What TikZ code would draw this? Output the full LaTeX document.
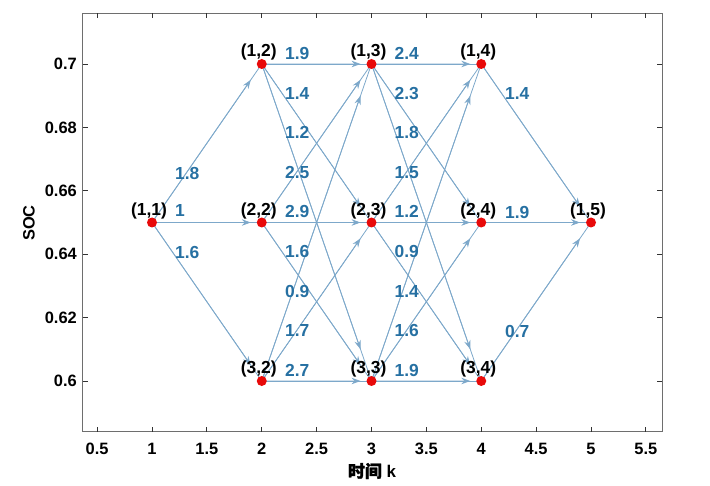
\documentclass[tikz,border=0pt]{standalone}
\usepackage{fontspec}
\setmainfont{Liberation Sans}
\newfontfamily\cjk[FakeBold=1.5]{Noto Sans CJK SC}
\usetikzlibrary{arrows.meta,calc}
\definecolor{edgeblue}{RGB}{125,168,202}
\definecolor{lblue}{RGB}{38,112,162}
\definecolor{dotred}{RGB}{232,10,10}
\definecolor{axisgray}{RGB}{110,110,110}
\tikzset{
  axisbox/.style={draw=axisgray, line width=1pt},
  tickmark/.style={draw=black!80, line width=0.9pt},
  edge/.style={draw=edgeblue, line width=0.8pt},
  arr/.style={draw=edgeblue, line width=0.8pt, -{Stealth[length=9pt,width=6.5pt,inset=3pt]}},
  dot/.style={circle, fill=dotred, inner sep=0pt, minimum size=10bp},
  nlab/.style={font=\fontsize{17.5}{18}\selectfont\bfseries, text=black, inner sep=0pt},
  elab/.style={font=\fontsize{17.5}{18}\selectfont\bfseries, text=lblue, inner sep=0pt, anchor=west},
  ticklab/.style={font=\fontsize{16.5}{17}\selectfont\bfseries, text=black, inner sep=0pt},
}
\newcommand\conn[2]{%
  \draw[edge] (#1) -- (#2);
  \draw[arr] (#1) -- ($(#1)!0.9!(#2)$);}
\begin{document}
\begin{tikzpicture}[x=1bp,y=-1bp]
\useasboundingbox (0,0) rectangle (710,486);
% axes box
\draw[axisbox] (82.7,13.3) rectangle (662,431.7);
% x ticks
\foreach \k in {0.5,1,...,5.5}{
  \pgfmathsetmacro\px{152+(\k-1)*109.75}
  \draw[tickmark] (\px,431.7) -- ++(0,-5);
  \draw[tickmark] (\px,13.3) -- ++(0,5);
}
\foreach \k/\t in {0.5/0.5,1/1,1.5/1.5,2/2,2.5/2.5,3/3,3.5/3.5,4/4,4.5/4.5,5/5,5.5/5.5}{
  \pgfmathsetmacro\px{152+(\k-1)*109.75}
  \node[ticklab] (xt\t) at (\px,449) {\t};
}
% y ticks
\foreach \v/\t in {0.60/0.6,0.62/0.62,0.64/0.64,0.66/0.66,0.68/0.68,0.70/0.7}{
  \pgfmathsetmacro\py{381-(\v-0.6)*3170}
  \draw[tickmark] (82.7,\py) -- ++(5,0);
  \draw[tickmark] (662,\py) -- ++(-5,0);
  \node[ticklab, anchor=east] (yt\t) at (77,\py) {\t};
}
\node[ticklab, rotate=90] (ylab) at (29,223) {SOC};
\node[ticklab, font=\fontsize{17}{18}\selectfont\bfseries] (xlab) at (372,471) {{\cjk 时间} k};
% node positions
\coordinate (p11) at (152,222.5);
\coordinate (p12) at (261.75,64);
\coordinate (p22) at (261.75,222.5);
\coordinate (p32) at (261.75,381);
\coordinate (p13) at (371.5,64);
\coordinate (p23) at (371.5,222.5);
\coordinate (p33) at (371.5,381);
\coordinate (p14) at (481.25,64);
\coordinate (p24) at (481.25,222.5);
\coordinate (p34) at (481.25,381);
\coordinate (p15) at (591,222.5);
% connectors
\conn{p11}{p12}\conn{p11}{p22}\conn{p11}{p32}
\foreach \a in {2,3}{
  \pgfmathtruncatemacro\b{\a+1}
  \foreach \i in {1,2,3}{
    \foreach \j in {1,2,3}{
      \conn{p\i\a}{p\j\b}
    }
  }
}
\conn{p14}{p15}\conn{p24}{p15}\conn{p34}{p15}
% dots
\foreach \n in {11,12,22,32,13,23,33,14,24,34,15}{
  \node[dot] (d\n) at (p\n) {};
}
% node labels
\foreach \n/\t in {11/{(1,1)},12/{(1,2)},22/{(2,2)},32/{(3,2)},13/{(1,3)},23/{(2,3)},33/{(3,3)},14/{(1,4)},24/{(2,4)},34/{(3,4)},15/{(1,5)}}{
  \node[nlab] (l\n) at ($(p\n)+(-3,-12)$) {\t};
}
% edge labels
\node[elab] (e1a) at (175,173) {1.8};
\node[elab] (e1b) at (175,211) {1};
\node[elab] (e1c) at (175,252) {1.6};
\foreach \t [count=\i] in {1.9,1.4,1.2,2.5,2.9,1.6,0.9,1.7,2.7}{
  \pgfmathsetmacro\py{53.5+(\i-1)*39.6}
  \node[elab] (e2\i) at (285,\py) {\t};
}
\foreach \t [count=\i] in {2.4,2.3,1.8,1.5,1.2,0.9,1.4,1.6,1.9}{
  \pgfmathsetmacro\py{53.5+(\i-1)*39.6}
  \node[elab] (e3\i) at (394.5,\py) {\t};
}
\node[elab] (e4a) at (505,94) {1.4};
\node[elab] (e4b) at (505,212) {1.9};
\node[elab] (e4c) at (505,331) {0.7};
\end{tikzpicture}
\end{document}
